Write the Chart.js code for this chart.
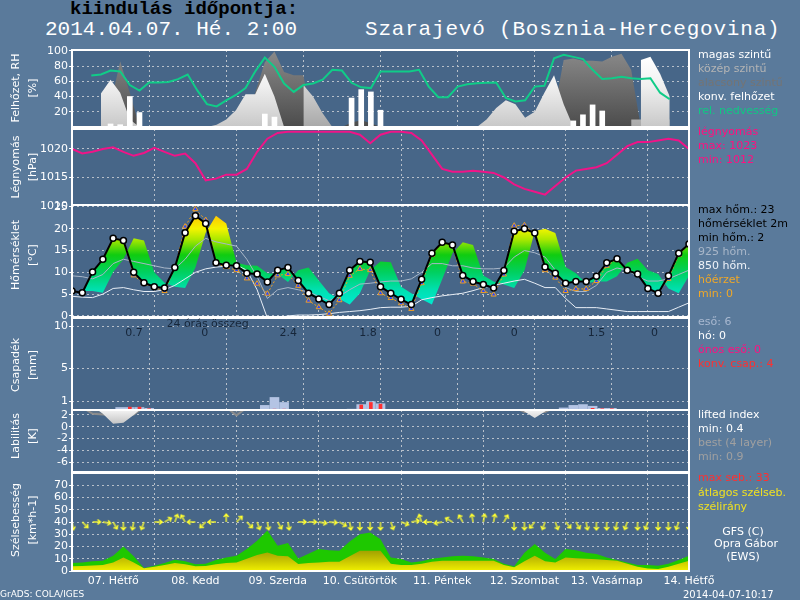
<!DOCTYPE html>
<html>
<head>
<meta charset="utf-8">
<script src="https://cdn.jsdelivr.net/npm/chart.js@4.4.0/dist/chart.umd.min.js"></script>
<style>
body { margin: 0; width: 800px; height: 600px; background: #5a7a9b; overflow: hidden; position: relative; font-family: 'DejaVu Sans', sans-serif; }
canvas { position: absolute; left: 0; }
.t { position: absolute; white-space: nowrap; font-size: 11px; line-height: 13px; }
.ax { position: absolute; white-space: nowrap; font-family: 'DejaVu Sans', sans-serif; font-size: 11px; line-height: 13px; color: #fff; transform: translate(-50%, -50%) rotate(-90deg); }
.hd { position: absolute; white-space: nowrap; font-family: 'Liberation Mono', monospace; }
</style>
</head>
<body>
<div class="hd" style="left:70px;top:0px;font-size:19px;line-height:19px;font-weight:bold;color:#000">kiindulás időpontja:</div>
<div class="hd" style="left:45px;top:19px;font-size:21px;line-height:21px;color:#fff">2014.04.07. Hé. 2:00</div>
<div class="hd" style="left:365px;top:19px;font-size:21px;line-height:21px;color:#fff;letter-spacing:0.8px">Szarajevó (Bosznia-Hercegovina)</div>

<canvas id="cCloud"></canvas>
<canvas id="cPres"></canvas>
<canvas id="cTemp"></canvas>
<canvas id="cPrec"></canvas>
<canvas id="cLab"></canvas>
<canvas id="cWind"></canvas>

<div class="ax" style="left:15px;top:88px">Felhőzet, RH</div>
<div class="ax" style="left:32px;top:88px">[%]</div>
<div class="ax" style="left:15px;top:167px">Légnyomás</div>
<div class="ax" style="left:32px;top:167px">[hPa]</div>
<div class="ax" style="left:15px;top:255px">Hőmérséklet</div>
<div class="ax" style="left:32px;top:255px">[°C]</div>
<div class="ax" style="left:15px;top:365px">Csapadék</div>
<div class="ax" style="left:32px;top:365px">[mm]</div>
<div class="ax" style="left:15px;top:436px">Labilitás</div>
<div class="ax" style="left:32px;top:436px">[K]</div>
<div class="ax" style="left:15px;top:520px">Szélsebesség</div>
<div class="ax" style="left:32px;top:520px">[km*h-1]</div>

<div class="t" style="left:698px;top:48px;color:#ffffff">magas szintű</div>
<div class="t" style="left:698px;top:62px;color:#b4b4b4">közép szintű</div>
<div class="t" style="left:698px;top:76px;color:#747474">alacsony szintű</div>
<div class="t" style="left:698px;top:90px;color:#ffffff">konv. felhőzet</div>
<div class="t" style="left:698px;top:104px;color:#10c884">rel. nedvesség</div>
<div class="t" style="left:698px;top:125px;color:#ff1080">légnyomás</div>
<div class="t" style="left:698px;top:139px;color:#ff1080">max: 1023</div>
<div class="t" style="left:698px;top:153px;color:#ff1080">min: 1012</div>

<div class="t" style="left:698px;top:203px;color:#000">max hőm.: 23</div>
<div class="t" style="left:698px;top:217px;color:#000">hőmérséklet 2m</div>
<div class="t" style="left:698px;top:231px;color:#000">min hőm.: 2</div>
<div class="t" style="left:698px;top:245px;color:#a8b6c8">925 hőm.</div>
<div class="t" style="left:698px;top:259px;color:#eef2f8">850 hőm.</div>
<div class="t" style="left:698px;top:273px;color:#f0a828">hőérzet</div>
<div class="t" style="left:698px;top:287px;color:#f0a828">min: 0</div>

<div class="t" style="left:698px;top:315px;color:#a8b8d0">eső: 6</div>
<div class="t" style="left:698px;top:329px;color:#ffffff">hó: 0</div>
<div class="t" style="left:698px;top:343px;color:#ff1080">ónos eső: 0</div>
<div class="t" style="left:698px;top:357px;color:#ff3030">konv. csap.: 4</div>

<div class="t" style="left:698px;top:408px;color:#ffffff">lifted index</div>
<div class="t" style="left:698px;top:422px;color:#ffffff">min: 0.4</div>
<div class="t" style="left:698px;top:436px;color:#a0a0a0">best (4 layer)</div>
<div class="t" style="left:698px;top:450px;color:#a0a0a0">min: 0.9</div>

<div class="t" style="left:698px;top:471px;color:#ff3030">max seb.: 33</div>
<div class="t" style="left:698px;top:486px;color:#f0e020">átlagos szélseb.</div>
<div class="t" style="left:698px;top:500px;color:#f0e020">szélirány</div>
<div class="t" style="left:743px;top:525px;color:#fff;transform:translateX(-50%)">GFS (C)</div>
<div class="t" style="left:746px;top:537px;color:#fff;transform:translateX(-50%)">Opra Gábor</div>
<div class="t" style="left:743px;top:550px;color:#fff;transform:translateX(-50%)">(EWS)</div>

<div class="t" style="left:0px;top:588px;color:#fff;font-size:9px">GrADS: COLA/IGES</div>
<div class="t" style="left:683px;top:588px;color:#fff;font-size:10px">2014-04-07-10:17</div>

<script>
// time axis (hours from 2014-04-07 00 UTC)
const hours = [0,3,6,9,12,15,18,21,24,27,30,33,36,39,42,45,48,51,54,57,60,63,66,69,72,75,78,81,84,87,90,93,96,99,102,105,108,111,114,117,120,123,126,129,132,135,138,141,144,147,150,153,156,159,162,165,168,171,174,177,180];
const dayLabels = ['07. Hétfő','08. Kedd','09. Szerda','10. Csütörtök','11. Péntek','12. Szombat','13. Vasárnap','14. Hétfő'];

// felhőzet / RH
const relHum = [67.5,68.8,74,72.8,55,47.8,58.3,58.5,59,62.8,
  68.8,48,30,27,35,42,51,72.8,91,79,
  57,46,55,57,62,75,74,58,52,51,
  72.8,72.8,72.8,72.8,75,53,39,39,53,56,
  57.5,58,58.3,38,33.5,35,53,54,90,94.7,
  92,89,75,63,64,66,64,63,64,45,
  36.4];
const convCloud = [0,0,4,3,40,19,0,0,0,0, 0,0,0,0,0,0,0,0,17,13, 0,0,0,0,0,0,0,38,49,46,
  22,0,0,0,0,0,0,0,0,0, 0,0,0,0,0,0,0,0,0,0, 8,16,29,21,0,0,0,0,0,0, 0];
const highCloud = [null,44,62,45,10,0,null,null,null,null, null,null,0,3,10,22,43,43,70,40,
  0,null,null,null,null,null,null,null,null,null, null,null,null,null,null,null,null,null,null,null,
  0,10,25,35,30,12,20,45,68,30, 0,null,null,null,null,null,null,88,92,70, 40];
const midCloud = [null,null,null,null,null,null,null,null,null,null, null,null,null,null,null,null,null,null,null,null,
  null,null,55,40,18,0,null,null,null,null, null,null,null,null,null,null,null,null,null,null,
  null,null,null,null,null,null,null,null,null,null, null,null,null,null,null,null,10,10,10,10, 10];
const lowCloud = [null,null,30,86,45,0,null,null,null,null, null,null,null,null,null,null,0,45,85,99,
  72,68,68,0,null,null,0,6,9,5, 0,null,null,null,null,null,null,null,null,null,
  null,null,null,null,null,null,null,0,20,88, 90,87,87,86,92,96,75,0,null,null, null];

// légnyomás
const pressure = [1020,1019.2,1019.5,1020,1020.3,1019.5,1018.8,1019.3,1020.2,1019.5,
  1018.8,1019.2,1017.5,1014.5,1014.8,1015.5,1015.5,1016.5,1019.5,1021.8,
  1022.8,1023,1023,1023,1023,1023,1023,1023,1022.5,1021,
  1022.5,1023,1023,1022.8,1021.5,1019,1016.5,1016,1016,1016.2,
  1016,1015.8,1015,1013.8,1013,1012.5,1012,1013.5,1015,1016.2,
  1016.5,1016.8,1017.5,1019,1020.5,1021.2,1021.2,1021.5,1021.8,1021.5,
  1020];

// hőmérséklet
const temp2m = [5.7,5.3,10.1,13.0,17.8,17.3,10.0,7.6,6.7,6.4,
  11.1,19.1,23.0,21.2,12.2,11.6,11.5,9.8,9.6,7.8,
  10.5,11.1,8.1,5.2,3.9,2.6,5.2,10.5,12.5,12.3,
  6.7,5.2,3.8,2.6,8.4,14.4,16.9,16.3,9.3,7.9,
  7.2,6.4,10.4,19.4,20.0,19.0,11.2,9.8,7.5,7.9,
  7.9,9.1,12.2,13.1,10.5,9.6,6.3,5.2,9.2,14.4,
  16.5];
const feelsLike = [5.7,5.3,10.1,13.0,17.8,17.3,9.3,7.4,6.5,5.7,
  11.0,20.5,24.5,22.0,12.0,11.2,10.5,8.6,7.4,5.1,
  9.3,9.6,6.9,3.5,2.0,0.5,3.6,9.2,10.8,10.5,
  5.2,4.1,2.9,1.6,7.5,14.0,16.9,16.3,7.9,7.4,
  5.7,4.9,9.5,20.7,20.8,19.0,10.5,8.8,5.7,6.2,
  6.2,8.0,11.5,13.0,10.5,9.6,6.3,5.2,8.5,14.0,
  16.5];
const temp925 = [9.2,9.0,8.5,9.5,12.0,13.0,12.5,12.0,11.5,11.0,
  10.8,13.0,16.0,17.8,17.0,16.5,16.0,13.0,9.0,4.0,
  6.0,6.5,6.0,5.5,4.5,3.5,4.5,6.0,7.3,7.5,
  7.8,8.0,8.0,8.5,10.0,12.0,12.0,11.5,11.5,11.0,
  10.8,10.8,11.0,13.5,15.0,14.5,13.5,10.5,6.5,5.6,
  5.6,7.0,10.0,11.0,10.5,9.0,8.0,8.0,8.5,9.5,
  10.5];
const temp850 = [4.5,4.3,4.2,5.0,6.3,6.5,6.0,5.6,5.6,6.0,
  7.0,8.5,10.0,10.8,11.2,11.4,11.6,10.5,6.0,-0.5,
  -0.5,0.0,0.2,0.2,0.3,0.5,0.8,1.0,1.2,1.5,
  1.9,2.0,2.0,2.2,3.7,4.2,4.6,4.9,5.2,5.8,
  6.5,7.0,7.5,8.0,8.4,7.5,6.5,6.5,4.0,1.9,
  1.9,1.9,1.6,1.3,1.0,1.0,1.0,1.0,1.0,2.0,
  3.0];

// csapadék
const rain = [0,0,0,0.3,0.3,0.3,0.2,0,0,0, 0,0,0,0,0,0,0,0,0.55,1.5, 0.9,0,0,0,0,0,0,0.1,0.65,1.0,
  0.75,0,0,0,0,0,0,0,0,0, 0,0,0,0,0,0,0,0,0,0.25, 0.55,0.65,0.45,0.2,0.2,0,0,0,0,0, 0];
const convPrec = [0,0,0,0,0.35,0.35,0.15,0,0,0, 0,0,0,0,0,0,0,0,0,0.1, 0.1,0,0,0,0,0,0,0,0.6,0.9,
  0.7,0,0,0,0,0,0,0,0,0, 0,0,0,0,0,0,0,0,0,0, 0,0,0.2,0.15,0.15,0,0,0,0,0, 0];
const dailySums = ['0.7','0','2.4','1.8','0','0','1.5','0'];
const dailySumHours = [13.3,35.3,61.3,86.1,107.7,131.6,157.2,175.3];

// labilitás
const liftedIdx = [null,null,3.5,2.2,0.5,0.7,2.0,3.5,null,null, null,null,null,null,null,null,null,null,null,null,
  null,null,null,null,null,null,null,null,null,null, null,null,null,null,null,null,null,null,null,null,
  null,null,null,3.5,2.6,1.5,2.6,3.5,null,null, null,null,null,null,null,null,null,null,null,null, null];
const bestIdx = [null,3.3,2.2,2.1,2.0,2.0,2.1,3.3,null,null, null,null,null,null,null,3.3,1.9,3.3,null,null,
  null,null,null,null,null,null,null,null,null,null, null,null,null,null,null,null,null,null,null,null,
  null,null,null,3.3,2.5,2.5,2.5,3.3,null,null, null,null,null,null,null,null,null,null,null,null, null];

// szél
const windMax = [6.5,7,8,8.4,12.4,20,12,2.4,4.3,6.5,
  9.2,8,5.5,6,8.9,11,12.4,18,24.6,33,
  20.6,22.8,10.3,14,17.9,17,16.5,24,30,31.5,
  26,11.1,9.8,7,8,10,11.1,12,12.4,12,
  11,9.8,6,3.8,15,22,15,9.8,17.9,17,
  15,13.8,11.1,9,7,5,4.9,4.3,6,9,
  12.4];
const windAvg = [3.8,4,4.5,5,7,11.1,7,2.2,3.5,5,
  6.5,5.5,3.8,4,5.5,6.5,7,10,13,15.2,
  12.4,12,5.7,6.5,7,7.5,7.6,12,16.5,16.5,
  16.5,6,5,4.9,6,7.5,8.4,8.4,8.4,8.4,
  8.4,8.4,5,3,8,12.4,8,7,11.1,10.5,
  10,9.5,9,8.4,6,3.5,2,1.6,3.5,6,
  8.4];
const windDir = [170,135,90,100,150,180,190,200,90,60,
  20,330,270,225,270,0,45,135,160,170,
  150,170,90,90,100,95,120,170,180,180,
  180,160,110,80,340,270,260,300,330,350,
  10,10,30,180,180,220,200,160,140,150,
  170,180,180,190,200,180,200,180,180,200,
  180];
const arrowLevel = 40;

const GRID = '#b8c0ca';
const INNER = '#476688';
Chart.defaults.font.family = "'DejaVu Sans', sans-serif";
Chart.defaults.font.size = 11;
Chart.defaults.color = '#ffffff';

const pts = arr => hours.map((h, i) => ({ x: h, y: arr[i] }));

const frame = {
  id: 'frame',
  beforeDraw(chart) {
    const { ctx, chartArea: a } = chart;
    ctx.save();
    ctx.fillStyle = INNER;
    ctx.fillRect(a.left, a.top, a.width, a.height);
    ctx.restore();
  },
  afterDatasetsDraw(chart) {
    const { ctx, chartArea: a } = chart;
    ctx.save();
    ctx.strokeStyle = '#ffffff';
    ctx.lineWidth = 2;
    ctx.strokeRect(a.left, a.top, a.width, a.height);
    ctx.restore();
  }
};

function vGradient(stops, vFrom, vTo) {
  return function(c) {
    const ch = c.chart;
    if (!ch.chartArea) return 'rgba(0,0,0,0)';
    const y = ch.scales.y;
    const g = ch.ctx.createLinearGradient(0, y.getPixelForValue(vFrom), 0, y.getPixelForValue(vTo));
    stops.forEach(s => g.addColorStop(s[0], s[1]));
    return g;
  };
}

function makePanel(id, top, bottom, yCfg, datasets, opts) {
  opts = opts || {};
  const padTop = 10;
  const xH = opts.xLabels ? 29 : 0;
  const padBottom = opts.xLabels ? 0 : 10;
  const canvas = document.getElementById(id);
  canvas.width = 800;
  canvas.height = bottom - top + padTop + padBottom + xH;
  canvas.style.top = (top - padTop) + 'px';
  return new Chart(canvas, {
    type: 'line',
    data: { datasets: datasets },
    options: {
      responsive: false,
      animation: false,
      events: [],
      layout: { padding: { left: 0, right: 111, top: padTop, bottom: padBottom } },
      plugins: { legend: { display: false }, tooltip: { enabled: false } },
      elements: { line: { tension: 0 }, point: { radius: 0 } },
      scales: {
        x: {
          type: 'linear', min: 0, max: 180,
          afterBuildTicks: s => { s.ticks = []; for (let v = 0; v <= 180; v += 12) s.ticks.push({ value: v }); },
          afterFit: s => { s.height = xH; },
          grid: {
            color: c => (c.tick && c.tick.value % 24 === 0 && c.tick.value > 0 && c.tick.value < 180) ? GRID : 'rgba(0,0,0,0)',
            drawTicks: false
          },
          border: { display: false, dash: [2, 3] },
          ticks: {
            display: !!opts.xLabels, padding: 4, maxRotation: 0, autoSkip: false,
            callback: v => (v % 24 === 12 ? dayLabels[(v - 12) / 24] : ''),
            color: '#ffffff', font: { size: 11 }
          }
        },
        y: {
          min: yCfg.min, max: yCfg.max,
          afterBuildTicks: s => { s.ticks = yCfg.ticks.map(v => ({ value: v })); },
          afterFit: s => { s.width = 72; },
          grid: { color: GRID, drawTicks: true, tickLength: 3, tickColor: '#ffffff' },
          border: { display: false, dash: [2, 3] },
          ticks: { padding: 1, autoSkip: false, color: '#ffffff', font: { size: 11 }, callback: v => String(v) }
        }
      }
    },
    plugins: [frame].concat(opts.plugins || [])
  });
}

// 1. felhőzet, RH
makePanel('cCloud', 50, 127, { min: 0, max: 101, ticks: [20, 40, 60, 80, 100] }, [
  { data: pts(relHum), borderColor: '#10cc88', borderWidth: 2, order: 0 },
  { type: 'bar', data: pts(convCloud), backgroundColor: '#ffffff', barThickness: 5, grouped: false, order: 1 },
  { data: pts(highCloud), borderWidth: 0, fill: 'origin', spanGaps: false, order: 2,
    backgroundColor: vGradient([[0, '#c8c8c8'], [0.6, '#f0f0f0'], [1, '#ffffff']], 0, 90) },
  { data: pts(midCloud), borderWidth: 0, fill: 'origin', spanGaps: false, order: 3,
    backgroundColor: vGradient([[0, '#a8a8a8'], [1, '#d8d8d8']], 0, 60) },
  { data: pts(lowCloud), borderWidth: 0, fill: 'origin', spanGaps: false, order: 4,
    backgroundColor: vGradient([[0, '#4c4c4c'], [1, '#8a8a8a']], 0, 100) }
]);

// 2. légnyomás
makePanel('cPres', 129, 206, { min: 1010, max: 1023.5, ticks: [1010, 1015, 1020] }, [
  { data: pts(pressure), borderColor: '#f01488', borderWidth: 2 }
]);

// 3. hőmérséklet
const tempBand = temp2m.map((v, i) => temp2m[Math.max(0, i - 2)]);
makePanel('cTemp', 205, 317, { min: -0.25, max: 25.45, ticks: [0, 5, 10, 15, 20, 25] }, [
  { data: pts(temp2m), borderColor: '#000000', borderWidth: 2, order: 0,
    pointRadius: 3, pointBackgroundColor: '#ffffff', pointBorderColor: '#000000', pointBorderWidth: 1.5 },
  { data: pts(feelsLike), borderColor: '#f0a020', borderWidth: 1, borderDash: [2, 2], order: 1,
    pointRadius: 3, pointStyle: 'triangle', pointBackgroundColor: '#2848ff', pointBorderColor: '#f0a020', pointBorderWidth: 1 },
  { data: pts(temp925), borderColor: '#a8b6c8', borderWidth: 1, order: 2 },
  { data: pts(temp850), borderColor: '#e8eef6', borderWidth: 1, order: 2 },
  { data: pts(tempBand), borderWidth: 0, fill: 0, order: 5,
    backgroundColor: vGradient([[0, '#00f0e8'], [0.24, '#00e0b0'], [0.4, '#00d060'], [0.56, '#10cc10'],
      [0.7, '#a8e800'], [0.8, '#f4f400'], [0.92, '#ffc800'], [1, '#ffb000']], 0, 25) }
]);

// 4. csapadék
const sumsPlugin = {
  id: 'sums',
  afterDatasetsDraw(chart) {
    const { ctx, scales: { x } } = chart;
    const top = chart.chartArea.top;
    ctx.save();
    ctx.fillStyle = '#16263a';
    ctx.font = "11px 'DejaVu Sans'";
    ctx.textAlign = 'center';
    ctx.textBaseline = 'middle';
    ctx.fillText('24 órás összeg', x.getPixelForValue(36.2), top + 6);
    dailySums.forEach((s, i) => ctx.fillText(s, x.getPixelForValue(dailySumHours[i]), top + 15));
    ctx.restore();
  }
};
makePanel('cPrec', 318, 410, { min: 0, max: 11, ticks: [1, 5, 10] }, [
  { type: 'bar', data: pts(convPrec), backgroundColor: '#ff3030', barThickness: 3, grouped: false, order: 0 },
  { type: 'bar', data: pts(rain), backgroundColor: '#b4c4e4', barThickness: 9, grouped: false, order: 1 }
], { plugins: [sumsPlugin] });

// 5. labilitás
makePanel('cLab', 410, 472, { min: -7.7, max: 2.85, ticks: [2, 0, -2, -4, -6] }, [
  { data: pts(liftedIdx), borderWidth: 0, fill: 'end', spanGaps: false, order: 0,
    backgroundColor: vGradient([[0, '#c4c4c4'], [1, '#f4f4f4']], 0.5, 2.85) },
  { data: pts(bestIdx), borderColor: '#8c8c8c', borderWidth: 2, fill: 'end', spanGaps: false, order: 1,
    backgroundColor: 'rgba(120,130,140,0.5)' }
]);

// 6. szél
const arrowImg = document.createElement('canvas');
arrowImg.width = 22; arrowImg.height = 22;
(function() {
  const g = arrowImg.getContext('2d');
  g.strokeStyle = '#ffff30';
  g.lineWidth = 1.3;
  g.beginPath();
  g.moveTo(11, 11); g.lineTo(11, 3);
  g.moveTo(8.5, 6); g.lineTo(11, 3); g.lineTo(13.5, 6);
  g.stroke();
})();
makePanel('cWind', 473, 571, { min: 0, max: 80, ticks: [0, 10, 20, 30, 40, 50, 60, 70] }, [
  { data: hours.map(h => ({ x: h, y: arrowLevel })), showLine: false, pointStyle: arrowImg,
    pointRadius: 3, pointRotation: windDir, order: 0 },
  { data: pts(windAvg), borderWidth: 0, fill: 'origin', order: 1,
    backgroundColor: vGradient([[0, '#f0f000'], [0.5, '#c8c400'], [1, '#a0a000']], 0, 17) },
  { data: pts(windMax), borderWidth: 0, fill: 'origin', order: 2, backgroundColor: '#1ec800' }
], { xLabels: true });
</script>
</body>
</html>
